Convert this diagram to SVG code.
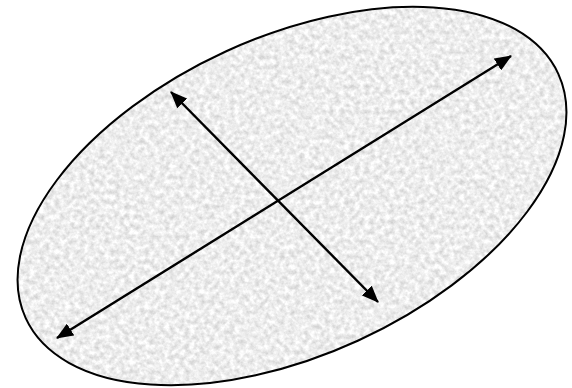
<svg xmlns="http://www.w3.org/2000/svg" width="572" height="388" viewBox="0 0 572 388">
  <style>
    .axis { stroke: #000; stroke-width: 2.4; fill: none; marker-start: url(#head); marker-end: url(#head); }
    .outline { fill: none; stroke: #000; stroke-width: 2; }
  </style>
  <defs>
    <marker id="head" viewBox="0 0 17 14" refX="16" refY="7" markerWidth="17" markerHeight="14" markerUnits="userSpaceOnUse" orient="auto-start-reverse">
      <path d="M0,0 L17,7 L0,14 Z" fill="#000"/>
    </marker>
    <filter id="granite" x="0" y="0" width="100%" height="100%" color-interpolation-filters="sRGB">
      <feTurbulence type="fractalNoise" baseFrequency="0.2" numOctaves="3" seed="7" result="n"/>
      <feColorMatrix in="n" type="matrix" values="0.3 0 0 0 0.78  0.3 0 0 0 0.78  0.3 0 0 0 0.78  0 0 0 0 1"/>
    </filter>
    <clipPath id="ellClip">
      <ellipse cx="292" cy="196" rx="293" ry="159" transform="rotate(-24.65 292 196)"/>
    </clipPath>
  </defs>
  <rect width="572" height="388" fill="#fff"/>
  <g id="ellipse-node">
    <g clip-path="url(#ellClip)">
      <rect x="0" y="0" width="572" height="388" filter="url(#granite)"/>
    </g>
    <ellipse class="outline" cx="292" cy="196" rx="293" ry="159" transform="rotate(-24.65 292 196)"/>
  </g>
  <g id="connectors">
    <line class="axis" x1="57" y1="338" x2="511" y2="56"/>
    <line class="axis" x1="171" y1="92" x2="378" y2="302"/>
  </g>
</svg>
